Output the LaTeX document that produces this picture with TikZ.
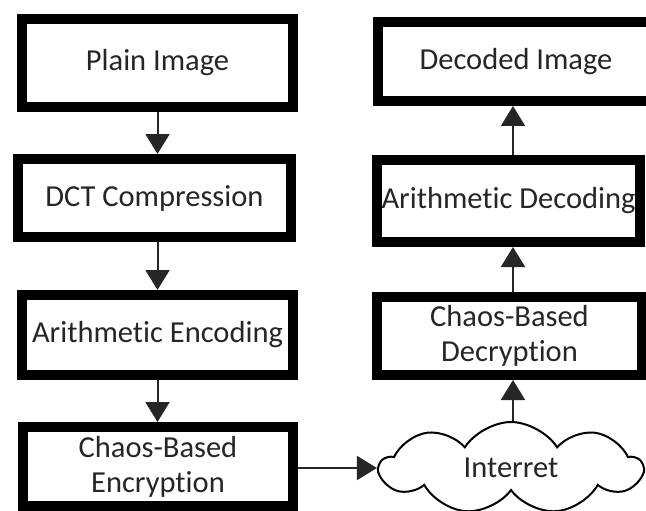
\documentclass[tikz,border=0pt]{standalone}
\usepackage{fontspec}
\setmainfont[RawFeature={-liga}]{Carlito}
\usetikzlibrary{arrows.meta,shapes.symbols}
\tikzset{
  blockbox/.style={draw=black, line width=10pt, fill=white, inner sep=0pt,
    align=center, text=black!85, font=\fontsize{30.5}{35}\selectfont},
  flow/.style={draw=black!85, line width=2pt,
    -{Triangle[length=20pt,width=24pt]}},
  netcloud/.style={cloud, cloud puffs=9, cloud puff arc=115, aspect=2.9,
    draw=black, line width=2pt, fill=white, inner sep=0pt,
    text=black!85, font=\fontsize{30.5}{35}\selectfont}
}
\begin{document}
\begin{tikzpicture}[x=1pt,y=-1pt]
  \clip (0,0) rectangle (646,511);
  \fill[white] (0,0) rectangle (646,511);

  % sender side
  \node[blockbox, minimum width=271pt, minimum height=88pt] (plain) at (157.5,63) {Plain Image};
  \node[blockbox, minimum width=273pt, minimum height=78pt] (dct) at (154.5,198) {DCT Compression};
  \node[blockbox, minimum width=271pt, minimum height=80pt] (aenc) at (157.5,335) {Arithmetic Encoding};
  \node[blockbox, minimum width=270pt, minimum height=79pt] (cenc) at (158,466.5) {Chaos-Based\\Encryption};

  % receiver side
  \node[blockbox, minimum width=276pt, minimum height=79pt] (dimg) at (516,61.5) {Decoded Image};
  \node[blockbox, minimum width=263pt, minimum height=82pt] (adec) at (508.5,201) {Arithmetic Decoding};
  \node[blockbox, minimum width=265pt, minimum height=78pt] (cdec) at (509.5,336) {Chaos-Based\\Decryption};

  % network
  \node[netcloud, minimum width=262pt, minimum height=92pt] (net) at (511,468) {Interret};

  % x position of the receiver-side connector column
  \coordinate (rcol) at (513,0);

  % connectors
  \draw[flow] (plain.south) -- (plain.south |- dct.north);
  \draw[flow] (plain.south |- dct.south) -- (plain.south |- aenc.north);
  \draw[flow] (plain.south |- aenc.south) -- (plain.south |- cenc.north);
  \draw[flow] (cenc.east |- net.west) -- (net.west);
  \draw[flow] (net.north -| rcol) -- (cdec.south -| rcol);
  \draw[flow] (cdec.north -| rcol) -- (adec.south -| rcol);
  \draw[flow] (adec.north -| rcol) -- (dimg.south -| rcol);
\end{tikzpicture}
\end{document}
